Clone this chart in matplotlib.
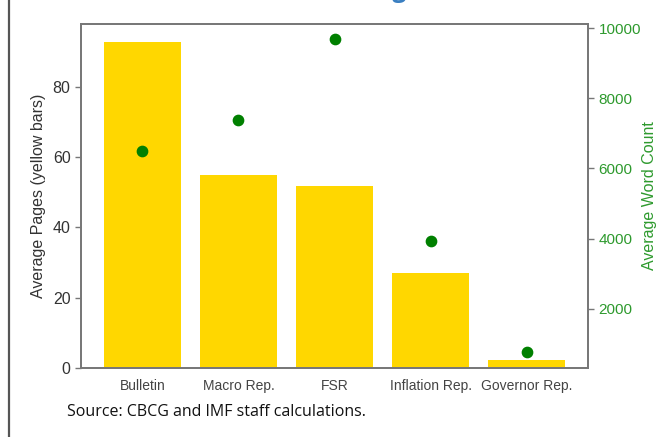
import matplotlib
matplotlib.use("Agg")
import matplotlib.pyplot as plt
from matplotlib.lines import Line2D

categories = ["Bulletin", "Macro Rep.", "FSR", "Inflation Rep.", "Governor Rep."]
avg_pages = [92.8, 54.9, 51.8, 27.0, 2.3]
avg_words = [6510, 7370, 9680, 3940, 770]

plt.rcParams['font.family'] = ['Liberation Sans', 'DejaVu Sans']

fig = plt.figure(figsize=(6.62, 4.37), dpi=100)
ax = fig.add_axes([0.1224, 0.158, 0.7658, 0.787])
x = list(range(len(categories)))
ax.bar(x, avg_pages, width=0.8, color="#FFD700")
ax.set_xticks(x)
ax.set_xticklabels(categories, fontsize=10, color="#444444")
ax.tick_params(axis='x', length=0, pad=8)
ax.tick_params(axis='y', labelsize=11.5, colors="#333333", length=4, width=1, color="#777777")
ax.set_yticks([0, 20, 40, 60, 80])
ax.set_ylim(0, 97.9)
ax.set_ylabel("Average Pages (yellow bars)", fontsize=11.5, color="#333333", labelpad=5)
for s in ax.spines.values():
    s.set_color("#777777")
    s.set_linewidth(1.3)

ax2 = ax.twinx()
ax2.scatter(x, avg_words, color="green", s=55, zorder=3)
ax2.set_ylim(314, 10114)
ax2.set_yticks([2000, 4000, 6000, 8000, 10000])
ax2.tick_params(axis='y', labelsize=11, colors="#2e9a2e", length=4, width=1)
ax2.tick_params(axis='y', color="#777777")
ax2.set_ylabel("Average Word Count", fontsize=11.5, color="#2e9a2e", labelpad=1)
for s in ax2.spines.values():
    s.set_color("#777777")
    s.set_linewidth(1.3)

fig.text(0.101, 0.057, "Source: CBCG and IMF staff calculations.", fontsize=11.5,
         family=['Open Sans', 'DejaVu Sans'], color="#111111", va='center')
fig.text(0.475, 1.0062, "(Average Word Count)", fontsize=17.5, fontweight='bold',
         color="#3a7fc1", va='baseline', family=['Open Sans', 'DejaVu Sans'])
fig.add_artist(Line2D([0.013, 0.013], [0, 1], transform=fig.transFigure,
                      color="#555555", linewidth=1.6))

fig.savefig("out.png", dpi=100)
